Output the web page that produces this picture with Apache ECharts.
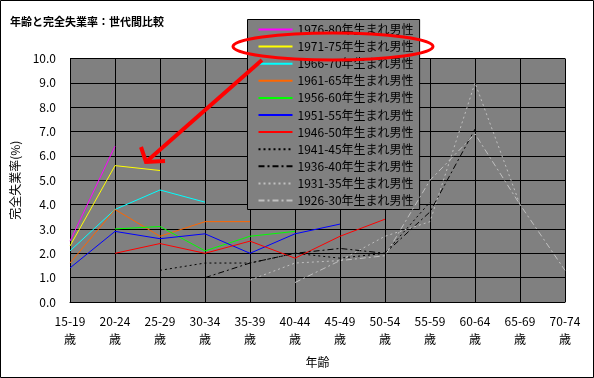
<!DOCTYPE html>
<html>
<head>
<meta charset="utf-8">
<script src="https://cdn.jsdelivr.net/npm/echarts@6/dist/echarts.min.js"></script>
<style>
  html, body { margin: 0; padding: 0; background: #fff; }
  #chart { width: 594px; height: 378px; }
</style>
</head>
<body>
<div id="chart"></div>
<script>
// 年齢階級（横軸）
const ageGroups = ['15-19\n歳', '20-24\n歳', '25-29\n歳', '30-34\n歳', '35-39\n歳', '40-44\n歳',
  '45-49\n歳', '50-54\n歳', '55-59\n歳', '60-64\n歳', '65-69\n歳', '70-74\n歳'];

// 世代ごとの完全失業率 (%)
const cohortNames = ['1976-80年生まれ男性', '1971-75年生まれ男性', '1966-70年生まれ男性',
  '1961-65年生まれ男性', '1956-60年生まれ男性', '1951-55年生まれ男性', '1946-50年生まれ男性',
  '1941-45年生まれ男性', '1936-40年生まれ男性', '1931-35年生まれ男性', '1926-30年生まれ男性'];

const c1976 = [2.5, 6.4];
const c1971 = [2.3, 5.6, 5.4];
const c1966 = [2.1, 3.8, 4.6, 4.1];
const c1961 = [1.6, 3.8, 2.7, 3.3, 3.3];
const c1956 = [null, 3.0, 3.1, 2.1, 2.7, 2.9];
const c1951 = [1.4, 2.9, 2.6, 2.8, 2.0, 2.8, 3.2];
const c1946 = [null, 2.0, 2.4, 2.0, 2.5, 1.8, 2.7, 3.4];
const c1941 = [null, null, 1.3, 1.6, 1.6, 2.0, 1.8, 2.0, 4.1];
const c1936 = [null, null, null, 1.0, 1.6, 2.0, 2.2, 2.0, 3.7, 7.1];
const c1931 = [null, null, null, null, 0.9, 1.6, 1.7, 2.7, 3.3, 9.0, 4.0];
const c1926 = [null, null, null, null, null, 0.8, 1.7, 1.9, 5.0, 6.9, 4.0, 1.3];

const yTicks = [0, 1, 2, 3, 4, 5, 6, 7, 8, 9, 10];

// 線のスタイル
const styles = [
  { color: '#ff00ff', type: 'solid' },
  { color: '#ffff00', type: 'solid' },
  { color: '#00ffff', type: 'solid' },
  { color: '#ff6600', type: 'solid' },
  { color: '#00ff00', type: 'solid' },
  { color: '#0000ff', type: 'solid' },
  { color: '#ff0000', type: 'solid' },
  { color: '#000000', type: [2, 3] },
  { color: '#000000', type: [6, 3, 2, 3] },
  { color: '#c0c0c0', type: [2, 3] },
  { color: '#c0c0c0', type: [6, 3, 2, 3] }
];

const cohortData = [c1976, c1971, c1966, c1961, c1956, c1951, c1946, c1941, c1936, c1931, c1926];

const font = '"Noto Sans CJK JP", "Noto Sans", sans-serif';
let chart = echarts.init(document.getElementById('chart'));

let series = cohortData.map(function (d, i) {
  return {
    name: cohortNames[i],
    type: 'line',
    data: d,
    symbol: 'none',
    showSymbol: false,
    lineStyle: { color: styles[i].color, width: 1, type: styles[i].type },
    itemStyle: { color: styles[i].color },
    z: 2 + i
  };
});

let option = {
  animation: false,
  textStyle: { fontFamily: font },
  title: {
    text: '年齢と完全失業率：世代間比較',
    left: 10,
    top: 16,
    padding: 0,
    textStyle: { fontSize: 11, fontWeight: 'bold', color: '#000', fontFamily: font }
  },
  grid: { left: 70, right: 29, top: 58.5, bottom: 76, show: true, backgroundColor: '#808080', borderWidth: 0 },
  legend: {
    orient: 'vertical',
    left: 247.5,
    top: 19.5,
    padding: [4, 6, 3, 10],
    itemWidth: 34,
    itemHeight: 14,
    itemGap: 5.1,
    backgroundColor: '#808080',
    borderColor: '#000',
    borderWidth: 1,
    itemStyle: { opacity: 0 },
    textStyle: { fontSize: 12, color: '#000', fontFamily: font },
    data: cohortNames,
    z: 10
  },
  xAxis: {
    type: 'category',
    data: ageGroups,
    boundaryGap: false,
    name: '年齢',
    nameLocation: 'middle',
    nameGap: 54,
    nameTextStyle: { fontSize: 12, color: '#000' },
    axisLine: { lineStyle: { color: '#000', width: 1 } },
    axisTick: { show: false },
    axisLabel: { fontSize: 12, color: '#000', lineHeight: 18, margin: 10, interval: 0 },
    splitLine: { show: true, lineStyle: { color: '#000', width: 1 } }
  },
  yAxis: {
    type: 'value',
    min: yTicks[0],
    max: yTicks[yTicks.length - 1],
    interval: 1,
    name: '完全失業率(%)',
    nameLocation: 'middle',
    nameRotate: 90,
    nameGap: 36,
    nameTextStyle: { fontSize: 12, color: '#000' },
    axisLine: { show: true, lineStyle: { color: '#000', width: 1 } },
    axisTick: { show: false },
    axisLabel: {
      fontSize: 12, color: '#000', margin: 14,
      formatter: function (v) { return v.toFixed(1); }
    },
    splitLine: { show: true, lineStyle: { color: '#000', width: 1 } }
  },
  // 注釈（赤い楕円と矢印）と外枠
  graphic: [
    {
      type: 'rect', z: 0, silent: true,
      shape: { x: 0.5, y: 0.5, width: 593, height: 377 },
      style: { fill: 'none', stroke: '#000', lineWidth: 1 }
    },
    {
      type: 'ellipse', z: 100, silent: true,
      shape: { cx: 333, cy: 46.5, rx: 100, ry: 13.5 },
      style: { fill: 'none', stroke: '#ff0000', lineWidth: 3 }
    },
    {
      type: 'polyline', z: 100, silent: true,
      shape: { points: [[262, 60], [146, 162]] },
      style: { fill: 'none', stroke: '#ff0000', lineWidth: 4 }
    },
    {
      type: 'polyline', z: 100, silent: true,
      shape: { points: [[141, 147], [146, 162], [165, 161]] },
      style: { fill: 'none', stroke: '#ff0000', lineWidth: 4 }
    }
  ],
  series: series
};

chart.setOption(option);
</script>
</body>
</html>
